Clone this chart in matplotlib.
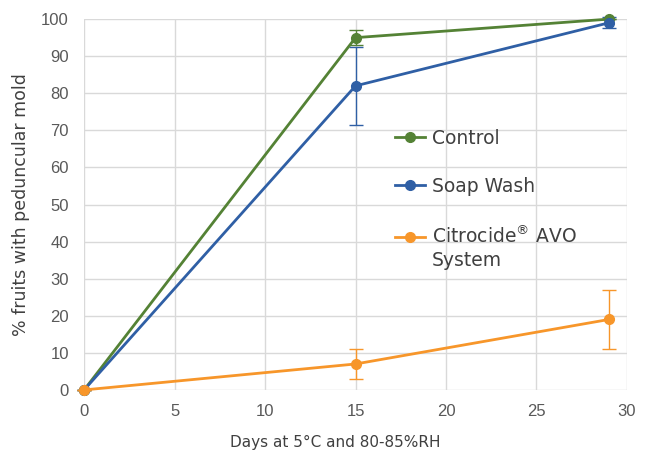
import numpy as np
from matplotlib import pyplot as plt
from matplotlib.legend_handler import HandlerLine2D
from matplotlib.transforms import Affine2D

days = [0, 15, 29]
control = [0, 95, 100]
control_err = [0, 2, 0]
soap = [0, 82, 99]
soap_err = [0, 10.5, 1.5]
citro = [0, 7, 19]
citro_err = [0, 4, 8]

labels = ["Control", "Soap Wash", "Citrocide$^{\\mathrm{\u00ae}}$ AVO\nSystem"]
colors = ["#548235", "#2f5fa5", "#f7962a"]


class FirstLineHandler(HandlerLine2D):
    # put the handle beside the first line of a two-line label
    def __init__(self, shift, **kw):
        super().__init__(**kw)
        self.shift = shift

    def create_artists(self, legend, orig_handle, xdescent, ydescent,
                       width, height, fontsize, trans):
        arts = super().create_artists(legend, orig_handle, xdescent, ydescent,
                                      width, height, fontsize, trans)
        for a in arts:
            a.set_transform(Affine2D().translate(0, self.shift) + trans)
        return arts


fig = plt.figure(figsize=(6.47, 4.55), dpi=100)
ax = fig.add_axes([0.130, 0.143, 0.839, 0.815])

series = [(control, control_err), (soap, soap_err), (citro, citro_err)]
for (vals, err), lab, col in zip(series, labels, colors):
    ax.errorbar(days, vals, yerr=err, color=col, linewidth=2, marker="o",
                markersize=7, elinewidth=1, ecolor=col, capsize=5, capthick=1,
                label=lab, zorder=3, clip_on=False)

ax.set_xlim(0, 30)
ax.set_ylim(0, 100)
ax.set_xticks(range(0, 31, 5))
ax.set_yticks(range(0, 101, 10))
ax.grid(True, color="#d9d9d9", linewidth=1)
ax.set_axisbelow(True)
for s in ax.spines.values():
    s.set_visible(False)
ax.tick_params(length=0, labelsize=12, labelcolor="#595959")
ax.tick_params(axis="x", pad=10)
ax.tick_params(axis="y", pad=11)
for t in ax.get_xticklabels() + ax.get_yticklabels():
    t.set_fontfamily("Liberation Sans")

ax.set_xlabel("Days at 5\u00b0C and 80-85%RH", fontsize=11, color="#404040")
ax.xaxis.set_label_coords(0.462, -0.122)
ax.set_ylabel("% fruits with peduncular mold", fontsize=12.5, color="#404040")
ax.yaxis.set_label_coords(-0.100, 0.5)

# legend shows only line + marker, no error bars
handles, _ = ax.get_legend_handles_labels()
handles = [h[0] for h in handles]
leg = ax.legend(handles, labels, loc="upper left", bbox_to_anchor=(0.573, 0.705),
                frameon=False, fontsize=13.5, borderpad=0, borderaxespad=0,
                handlelength=1.6, handletextpad=0.37, labelspacing=1.56,
                handler_map={handles[2]: FirstLineHandler(8.3)})
for t in leg.get_texts():
    t.set_color("#404040")
    t.set_linespacing(1.23)

fig.savefig("out.png", dpi=100)
